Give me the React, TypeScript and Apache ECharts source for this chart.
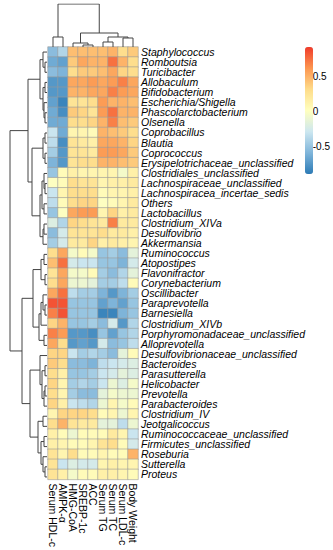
import React, { useEffect, useRef } from 'react';
import * as echarts from 'echarts';

const rowLabels = [
  'Staphylococcus', 'Romboutsia', 'Turicibacter', 'Allobaculum', 'Bifidobacterium',
  'Escherichia/Shigella', 'Phascolarctobacterium', 'Olsenella', 'Coprobacillus', 'Blautia',
  'Coprococcus', 'Erysipelotrichaceae_unclassified', 'Clostridiales_unclassified',
  'Lachnospiraceae_unclassified', 'Lachnospiracea_incertae_sedis', 'Others', 'Lactobacillus',
  'Clostridium_XIVa', 'Desulfovibrio', 'Akkermansia', 'Ruminococcus', 'Atopostipes',
  'Flavonifractor', 'Corynebacterium', 'Oscillibacter', 'Paraprevotella', 'Barnesiella',
  'Clostridium_XIVb', 'Porphyromonadaceae_unclassified', 'Alloprevotella',
  'Desulfovibrionaceae_unclassified', 'Bacteroides', 'Parasutterella', 'Helicobacter',
  'Prevotella', 'Parabacteroides', 'Clostridium_IV', 'Jeotgalicoccus',
  'Ruminococcaceae_unclassified', 'Firmicutes_unclassified', 'Roseburia', 'Sutterella', 'Proteus',
];

const colLabels = [
  'Serum HDL-c', 'AMPK-α', 'HMG-CoA', 'SREBP-1c', 'ACC', 'Serum TG', 'Serum TC', 'Serum LDL-c', 'Body Weight',
];

// correlation values, one row per genus, columns in colLabels order
const values: number[][] = [
  [-0.55, -0.4, 0.45, 0.45, 0.45, 0.45, 0.5, 0.3, 0.4],
  [-0.65, -0.7, 0.4, 0.55, 0.5, 0.5, 0.75, 0.5, 0.3],
  [-0.55, -0.6, 0.3, 0.4, 0.4, 0.45, 0.55, 0.35, 0.3],
  [-0.75, -0.75, 0.55, 0.55, 0.6, 0.55, 0.6, 0.7, 0.55],
  [-0.75, -0.75, 0.5, 0.5, 0.55, 0.55, 0.7, 0.6, 0.55],
  [-0.7, -0.85, 0.25, 0.25, 0.3, 0.6, 0.5, 0.5, 0.45],
  [-0.65, -0.8, 0.4, 0.35, 0.25, 0.6, 0.75, 0.5, 0.5],
  [-0.65, -0.65, 0.3, 0.3, 0.35, 0.5, 0.7, 0.45, 0.4],
  [-0.3, -0.65, 0.1, 0.1, 0.05, 0.5, 0.45, 0.4, 0.3],
  [-0.35, -0.8, 0.25, 0.2, 0.15, 0.55, 0.55, 0.5, 0.35],
  [-0.45, -0.75, 0.25, 0.25, 0.2, 0.6, 0.6, 0.55, 0.4],
  [-0.6, -0.75, 0.25, 0.3, 0.3, 0.5, 0.5, 0.45, 0.4],
  [-0.5, 0.05, 0.15, 0.1, 0.1, 0.1, 0.1, -0.05, 0.15],
  [0.0, 0.05, 0.3, 0.25, 0.25, 0.1, 0.15, 0.15, 0.2],
  [-0.3, 0.1, 0.3, 0.3, 0.3, 0.05, 0.1, 0.1, 0.15],
  [-0.35, 0.05, 0.3, 0.35, 0.35, 0.0, 0.05, 0.1, 0.2],
  [-0.5, 0.0, 0.55, 0.6, 0.6, 0.1, 0.35, 0.15, 0.2],
  [-0.2, -0.4, 0.35, 0.3, 0.25, 0.2, 0.7, 0.2, 0.2],
  [-0.55, -0.25, 0.25, 0.25, 0.25, 0.3, 0.2, 0.2, 0.15],
  [-0.45, -0.25, 0.2, 0.2, 0.35, 0.15, 0.2, 0.15, 0.1],
  [0.3, 0.55, -0.05, 0.05, -0.05, -0.5, -0.45, -0.55, -0.15],
  [0.45, 0.75, -0.25, -0.3, -0.3, -0.5, -0.5, -0.6, -0.25],
  [0.25, 0.55, -0.05, -0.05, 0.05, -0.45, -0.55, -0.4, -0.15],
  [0.3, 0.55, -0.1, -0.1, -0.15, -0.45, -0.45, -0.35, 0.05],
  [0.55, 0.75, -0.35, -0.45, -0.45, -0.6, -0.75, -0.6, -0.45],
  [0.85, 0.85, -0.5, -0.5, -0.5, -0.7, -0.6, -0.7, -0.5],
  [0.7, 0.85, -0.5, -0.5, -0.5, -0.85, -0.85, -0.6, -0.5],
  [0.35, 0.5, -0.5, -0.5, -0.45, -0.55, -0.25, -0.75, -0.4],
  [0.7, 0.6, -0.75, -0.75, -0.8, -0.5, -0.7, -0.5, -0.4],
  [0.55, 0.3, -0.75, -0.7, -0.75, -0.25, -0.55, -0.5, -0.35],
  [0.35, 0.35, -0.3, -0.45, -0.4, -0.45, -0.55, -0.15, 0.05],
  [0.4, 0.3, -0.55, -0.55, -0.6, -0.35, -0.3, -0.25, -0.2],
  [0.3, 0.15, -0.5, -0.5, -0.45, -0.3, -0.25, -0.15, -0.2],
  [0.35, 0.1, -0.45, -0.4, -0.45, -0.3, -0.1, -0.2, -0.05],
  [0.3, 0.1, -0.45, -0.55, -0.55, -0.15, -0.05, -0.1, -0.1],
  [0.35, 0.15, -0.3, -0.35, -0.4, -0.1, 0.1, -0.05, 0.05],
  [0.1, 0.35, 0.35, 0.35, 0.3, 0.05, 0.1, -0.1, 0.1],
  [0.3, 0.5, 0.25, 0.2, 0.2, -0.15, -0.15, -0.35, -0.1],
  [0.15, 0.05, -0.1, 0.05, 0.05, 0.05, 0.2, 0.1, -0.3],
  [0.15, 0.1, 0.05, 0.05, 0.1, 0.25, 0.3, 0.05, -0.25],
  [0.25, 0.1, 0.3, 0.05, 0.05, 0.1, 0.05, 0.05, 0.5],
  [0.25, -0.3, -0.2, -0.25, -0.25, 0.1, 0.15, 0.1, 0.1],
  [0.25, 0.15, -0.05, 0.05, 0.05, 0.15, 0.15, 0.1, 0.05],
];

// row dendrogram merges: [childA, childB, height]; leaves 0..42, new nodes numbered from 43
const rowMerges: [number, number, number][] = [
  [1, 2, 2], [0, 43, 4], [3, 4, 2], [6, 7, 2], [5, 46, 3], [45, 47, 4], [44, 48, 7],
  [8, 9, 2], [10, 11, 2], [50, 51, 4],
  [13, 14, 2], [12, 53, 3], [15, 16, 3], [54, 55, 5], [17, 18, 3], [57, 19, 4], [56, 58, 7],
  [52, 59, 15], [49, 60, 19],
  [20, 21, 3], [22, 23, 2], [62, 63, 6],
  [25, 26, 2], [24, 65, 4], [66, 27, 6], [28, 29, 3], [67, 68, 8], [64, 69, 14],
  [31, 32, 2], [33, 34, 2], [72, 35, 3], [71, 73, 5], [30, 74, 7],
  [36, 37, 4], [38, 39, 3], [41, 42, 2], [40, 78, 4], [77, 79, 6], [76, 80, 9],
  [75, 81, 17], [70, 82, 25], [61, 83, 37],
];

// column dendrogram merges: leaves 0..8, new nodes from 9
const colMerges: [number, number, number][] = [
  [0, 1, 10], [3, 4, 2], [2, 10, 4], [5, 6, 5], [7, 8, 9], [12, 13, 10], [11, 14, 14], [9, 15, 43],
];

const colorTicks = [-0.5, 0, 0.5];
const scaleMin = -0.9;
const scaleMax = 0.93;

function buildTree(merges: [number, number, number][], nLeaves: number) {
  const pos: number[] = [];
  const hgt: number[] = [];
  for (let i = 0; i < nLeaves; i++) {
    pos.push(i + 0.5);
    hgt.push(0);
  }
  const segs: number[][][] = [];
  merges.forEach(([a, b, h]) => {
    segs.push([[hgt[a], pos[a]], [h, pos[a]], [h, pos[b]], [hgt[b], pos[b]]]);
    pos.push((pos[a] + pos[b]) / 2);
    hgt.push(h);
  });
  return segs;
}

export default function App() {
  const ref = useRef<HTMLDivElement>(null);
  useEffect(() => {
    if (!ref.current) return;
    const chart = echarts.init(ref.current, null, { renderer: 'svg' });
    const heatData: number[][] = [];
    values.forEach((row, r) => row.forEach((v, c) => heatData.push([c, r, v])));
    const rowSegs = buildTree(rowMerges, rowLabels.length);
    const colSegs = buildTree(colMerges, colLabels.length).map((s) => s.map(([h, p]) => [p, h]));
    const font = 'Liberation Sans, Arial, sans-serif';
    chart.setOption({
      animation: false,
      backgroundColor: '#fff',
      grid: [
        { left: 48, top: 47, width: 90, height: 435 },
        { left: 305, top: 47, width: 8, height: 127 },
        { left: 8, top: 47, width: 39, height: 435 },
        { left: 48, top: 4, width: 90, height: 43 },
      ],
      xAxis: [
        {
          gridIndex: 0, type: 'category', data: colLabels, position: 'bottom',
          axisLine: { show: false }, axisTick: { show: false }, splitLine: { show: false },
          axisLabel: {
            rotate: -90, margin: 4, fontSize: 10.5, lineHeight: 9, color: '#000', fontFamily: font, interval: 0,
          },
        },
        { gridIndex: 1, type: 'value', show: false, min: 0, max: 1 },
        { gridIndex: 2, type: 'value', show: false, min: 0, max: 39, inverse: true },
        { gridIndex: 3, type: 'value', show: false, min: 0, max: colLabels.length },
      ],
      yAxis: [
        {
          gridIndex: 0, type: 'category', data: rowLabels, inverse: true, position: 'right',
          axisLine: { show: false }, axisTick: { show: false }, splitLine: { show: false },
          axisLabel: {
            margin: 3, fontSize: 10.5, lineHeight: 9, fontStyle: 'italic', color: '#000', fontFamily: font, interval: 0,
          },
        },
        {
          gridIndex: 1, type: 'value', min: scaleMin, max: scaleMax, position: 'right',
          axisLine: { show: false }, axisTick: { show: false }, splitLine: { show: false },
          axisLabel: { customValues: colorTicks, margin: 5, fontSize: 10, color: '#000', fontFamily: font },
        },
        { gridIndex: 2, type: 'value', show: false, min: 0, max: rowLabels.length, inverse: true },
        { gridIndex: 3, type: 'value', show: false, min: 0, max: 43 },
      ],
      visualMap: {
        type: 'continuous', min: scaleMin, max: scaleMax, seriesIndex: 0,
        left: 305, top: 47, itemWidth: 8, itemHeight: 127, padding: 0,
        calculable: false, text: ['', ''], showLabel: false,
        inRange: { color: ['#2C7BB6', '#7FB5DA', '#CDE7F0', '#FFFFBF', '#FEDC8A', '#FC9650', '#F03B2A'] },
      },
      series: [
        {
          type: 'heatmap', xAxisIndex: 0, yAxisIndex: 0, data: heatData,
          itemStyle: { borderColor: '#9a9a9a', borderWidth: 0.6 },
          emphasis: { disabled: true },
        },
        {
          type: 'lines', coordinateSystem: 'cartesian2d', xAxisIndex: 2, yAxisIndex: 2, polyline: true,
          data: rowSegs.map((c) => ({ coords: c })),
          lineStyle: { color: '#444', width: 1, opacity: 1 },
        },
        {
          type: 'lines', coordinateSystem: 'cartesian2d', xAxisIndex: 3, yAxisIndex: 3, polyline: true,
          data: colSegs.map((c) => ({ coords: c })),
          lineStyle: { color: '#444', width: 1, opacity: 1 },
        },
      ],
    });
    return () => chart.dispose();
  }, []);
  return <div ref={ref} style={{ position: 'fixed', left: 0, top: 0, width: 333, height: 550 }} />;
}
